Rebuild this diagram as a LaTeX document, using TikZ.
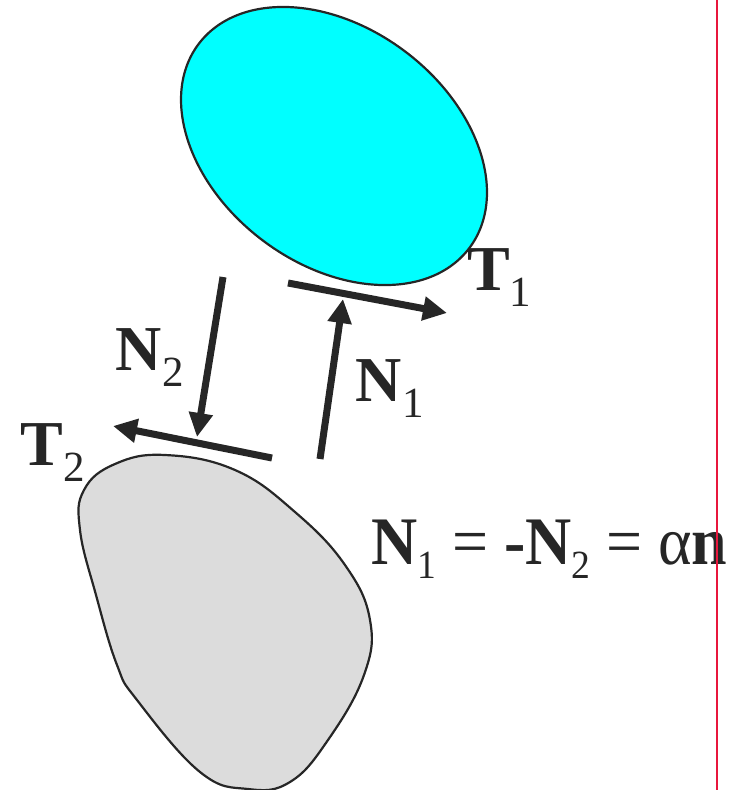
\documentclass[tikz,border=0pt]{standalone}
\usepackage{fontspec}
\setmainfont{Liberation Serif}
\usetikzlibrary{arrows.meta}
\definecolor{ink}{HTML}{262626}
\definecolor{upper}{HTML}{00FFFF}
\definecolor{lower}{HTML}{DCDCDC}
\definecolor{margin}{HTML}{E8173C}
\newcommand{\lowsub}[1]{\raisebox{-16pt}{\fontsize{43}{43}\selectfont #1}}
\tikzset{
  body/.style={draw=ink,line width=2.2pt},
  force/.style={-{Triangle[length=24pt,width=23pt]},line width=7pt,draw=ink},
  sym/.style={font=\fontsize{64}{64}\selectfont,text=ink,inner sep=0pt,anchor=base west},
}

\begin{document}
\begin{tikzpicture}[x=1pt,y=-1pt]
\useasboundingbox (0,0) rectangle (730,790);

% the two bodies
\draw[body,fill=upper,rotate around={-37:(334,146)}] (334,146) ellipse [x radius=169.5,y radius=118.3];
\draw[body,fill=lower] plot[smooth cycle,tension=0.7] coordinates {
  (165,455) (235,470) (295,512) (345,565) (370,620) (364,675)
  (328,740) (290,782) (248,789) (200,772) (137,700) (117,665)
  (96,595) (80,530) (84,490) (115,464)};

% contact forces
\coordinate (t1 tail) at (288,283);
\coordinate (t1 tip) at (447,313);
\coordinate (n1 tail) at (320,459);
\coordinate (n1 tip) at (343,299);
\coordinate (n2 tail) at (223,277);
\coordinate (n2 tip) at (197,437);
\coordinate (t2 tail) at (272,458);
\coordinate (t2 tip) at (113,426);

\draw[force] (t1 tail) -- (t1 tip);
\draw[force] (n1 tail) -- (n1 tip);
\draw[force] (n2 tail) -- (n2 tip);
\draw[force] (t2 tail) -- (t2 tip);

\node[sym] (T1) at (467,290) {\textbf{T}\lowsub{1}};
\node[sym] (T2) at (20.5,465) {\textbf{T}\lowsub{2}};
\node[sym] (N1) at (355.7,401.7) {\textbf{N}\lowsub{1}};
\node[sym] (N2) at (115.7,370) {\textbf{N}\lowsub{2}};
\node[sym,font=\fontsize{68}{68}\selectfont] (law) at (371,564.3)
  {\scalebox{0.94}[1]{\textbf{N}\raisebox{-14pt}{\fontsize{40}{40}\selectfont 1} = \textbf{-N}\raisebox{-14pt}{\fontsize{40}{40}\selectfont 2} = α\textbf{n}}};

\draw[margin,line width=2pt] (716.7,0) -- (716.7,790);
\end{tikzpicture}
\end{document}
